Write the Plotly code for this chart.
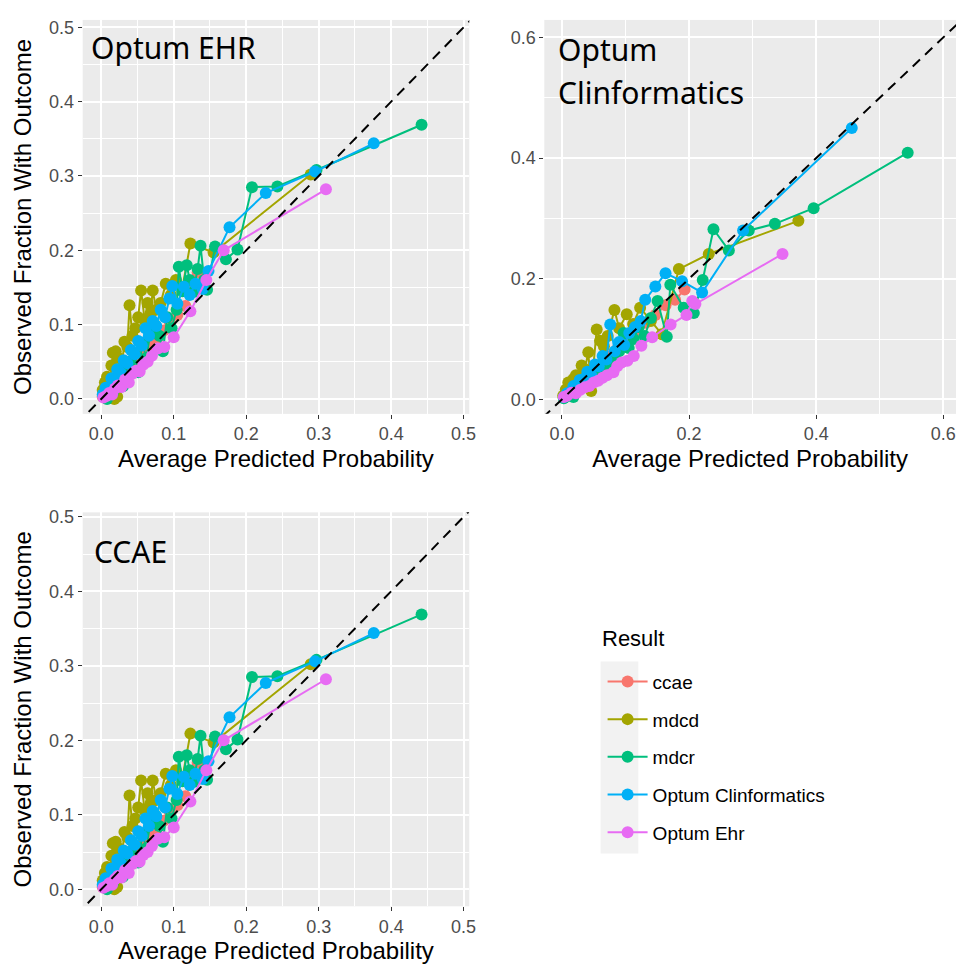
import plotly.graph_objects as go

# ---------------- data ----------------
series_names = ["ccae", "mdcd", "mdcr", "Optum Clinformatics", "Optum Ehr"]
series_colors = ["#F8766D", "#A3A500", "#00BF7D", "#00B0F6", "#E76BF3"]

# Panel "Optum EHR" (the "CCAE" panel shows the same curves)
ehr_ccae_x = [0.002, 0.006, 0.010, 0.015, 0.020, 0.025, 0.030, 0.036, 0.042, 0.048, 0.055, 0.062, 0.070, 0.078, 0.086, 0.095, 0.105, 0.116, 0.128, 0.133]
ehr_ccae_y = [0.003, 0.007, 0.012, 0.016, 0.020, 0.026, 0.032, 0.038, 0.044, 0.050, 0.058, 0.066, 0.075, 0.083, 0.092, 0.102, 0.113, 0.125, 0.150, 0.170]

ehr_mdcd_x = [0.002, 0.005, 0.008, 0.011, 0.014, 0.016, 0.018, 0.020, 0.022, 0.024, 0.028, 0.032, 0.036, 0.039, 0.043, 0.047, 0.051, 0.055, 0.060, 0.064, 0.068, 0.071, 0.076, 0.082, 0.089, 0.096, 0.103, 0.112, 0.123, 0.155, 0.289]
ehr_mdcd_y = [0.012, 0.022, 0.030, 0.010, 0.045, 0.062, 0.000, 0.064, 0.003, 0.055, 0.040, 0.077, 0.070, 0.126, 0.085, 0.095, 0.110, 0.146, 0.105, 0.129, 0.115, 0.146, 0.120, 0.129, 0.155, 0.140, 0.160, 0.150, 0.209, 0.197, 0.302]

ehr_mdcr_x = [0.003, 0.008, 0.012, 0.016, 0.020, 0.025, 0.030, 0.035, 0.040, 0.046, 0.051, 0.057, 0.062, 0.068, 0.074, 0.080, 0.085, 0.091, 0.097, 0.104, 0.107, 0.112, 0.118, 0.122, 0.127, 0.133, 0.137, 0.142, 0.146, 0.157, 0.172, 0.188, 0.208, 0.243, 0.297, 0.442]
ehr_mdcr_y = [0.004, 0.000, 0.012, 0.008, 0.022, 0.030, 0.017, 0.045, 0.050, 0.060, 0.036, 0.075, 0.055, 0.090, 0.100, 0.085, 0.064, 0.110, 0.095, 0.120, 0.178, 0.145, 0.180, 0.160, 0.144, 0.175, 0.206, 0.160, 0.147, 0.205, 0.188, 0.201, 0.285, 0.286, 0.308, 0.369]

ehr_clin_x = [0.002, 0.006, 0.010, 0.014, 0.018, 0.022, 0.027, 0.031, 0.036, 0.041, 0.046, 0.051, 0.056, 0.061, 0.066, 0.071, 0.076, 0.082, 0.088, 0.094, 0.098, 0.105, 0.114, 0.122, 0.130, 0.140, 0.148, 0.177, 0.227, 0.295, 0.376]
ehr_clin_y = [0.006, 0.015, 0.012, 0.028, 0.024, 0.040, 0.035, 0.052, 0.048, 0.066, 0.060, 0.078, 0.072, 0.095, 0.085, 0.105, 0.098, 0.120, 0.110, 0.135, 0.152, 0.128, 0.151, 0.140, 0.155, 0.148, 0.172, 0.231, 0.277, 0.306, 0.344]

ehr_ehr_x = [0.003, 0.007, 0.011, 0.015, 0.019, 0.023, 0.028, 0.033, 0.038, 0.043, 0.048, 0.053, 0.058, 0.064, 0.070, 0.078, 0.087, 0.100, 0.123, 0.145, 0.169, 0.310]
ehr_ehr_y = [0.002, 0.004, 0.008, 0.006, 0.014, 0.018, 0.016, 0.026, 0.022, 0.034, 0.038, 0.037, 0.046, 0.050, 0.058, 0.068, 0.070, 0.083, 0.118, 0.160, 0.200, 0.282]

# Panel "Optum Clinformatics"
clin_ccae_x = [0.003, 0.008, 0.014, 0.020, 0.027, 0.034, 0.042, 0.050, 0.058, 0.067, 0.076, 0.086, 0.096, 0.107, 0.119, 0.132, 0.147, 0.163, 0.178, 0.193]
clin_ccae_y = [0.003, 0.008, 0.013, 0.019, 0.026, 0.033, 0.040, 0.048, 0.056, 0.064, 0.072, 0.082, 0.092, 0.103, 0.113, 0.127, 0.140, 0.156, 0.165, 0.182]

clin_mdcd_x = [0.002, 0.006, 0.010, 0.014, 0.018, 0.022, 0.027, 0.031, 0.036, 0.0415, 0.046, 0.0547, 0.060, 0.066, 0.072, 0.0826, 0.090, 0.102, 0.112, 0.123, 0.140, 0.157, 0.184, 0.231, 0.372]
clin_mdcd_y = [0.006, 0.016, 0.028, 0.020, 0.034, 0.040, 0.030, 0.056, 0.050, 0.078, 0.014, 0.116, 0.097, 0.088, 0.105, 0.148, 0.118, 0.141, 0.125, 0.152, 0.130, 0.108, 0.216, 0.241, 0.296]

clin_mdcr_x = [0.003, 0.008, 0.013, 0.018, 0.024, 0.030, 0.036, 0.042, 0.048, 0.055, 0.062, 0.069, 0.076, 0.083, 0.090, 0.097, 0.105, 0.113, 0.121, 0.130, 0.140, 0.1505, 0.165, 0.1705, 0.1916, 0.2075, 0.2215, 0.2384, 0.2626, 0.294, 0.335, 0.396, 0.544]
clin_mdcr_y = [0.002, 0.006, 0.010, 0.004, 0.018, 0.022, 0.030, 0.026, 0.040, 0.044, 0.052, 0.060, 0.058, 0.072, 0.080, 0.110, 0.085, 0.100, 0.120, 0.105, 0.135, 0.163, 0.104, 0.190, 0.152, 0.143, 0.198, 0.282, 0.247, 0.280, 0.291, 0.317, 0.409]

clin_clin_x = [0.003, 0.008, 0.013, 0.018, 0.023, 0.028, 0.034, 0.040, 0.046, 0.052, 0.058, 0.064, 0.070, 0.076, 0.083, 0.090, 0.098, 0.106, 0.115, 0.124, 0.131, 0.147, 0.163, 0.189, 0.2205, 0.285, 0.456]
clin_clin_y = [0.004, 0.010, 0.012, 0.022, 0.020, 0.032, 0.034, 0.046, 0.040, 0.058, 0.055, 0.072, 0.066, 0.124, 0.080, 0.095, 0.090, 0.110, 0.120, 0.130, 0.165, 0.187, 0.209, 0.196, 0.177, 0.280, 0.450]

clin_ehr_x = [0.003, 0.008, 0.015, 0.022, 0.029, 0.036, 0.043, 0.050, 0.057, 0.064, 0.071, 0.081, 0.087, 0.094, 0.103, 0.113, 0.125, 0.142, 0.171, 0.196, 0.205, 0.210, 0.347]
clin_ehr_y = [0.004, 0.006, 0.011, 0.010, 0.016, 0.020, 0.022, 0.028, 0.031, 0.036, 0.040, 0.045, 0.055, 0.061, 0.064, 0.072, 0.089, 0.103, 0.124, 0.140, 0.163, 0.158, 0.241]

panel_titles = ["Optum EHR", "Optum", "Clinformatics", "CCAE"]
x_title = "Average Predicted Probability"
y_title = "Observed Fraction With Outcome"
legend_title = "Result"

ehr_sets = [(ehr_ccae_x, ehr_ccae_y), (ehr_mdcd_x, ehr_mdcd_y), (ehr_mdcr_x, ehr_mdcr_y),
            (ehr_clin_x, ehr_clin_y), (ehr_ehr_x, ehr_ehr_y)]
clin_sets = [(clin_ccae_x, clin_ccae_y), (clin_mdcd_x, clin_mdcd_y), (clin_mdcr_x, clin_mdcr_y),
             (clin_clin_x, clin_clin_y), (clin_ehr_x, clin_ehr_y)]
panel_sets = [ehr_sets, clin_sets, ehr_sets]

# ---------------- figure ----------------
W, H = 965, 967
fig = go.Figure()

axis_ids = [("x", "y"), ("x2", "y2"), ("x3", "y3")]
for p, sets in enumerate(panel_sets):
    xa, ya = axis_ids[p]
    for i, (xs, ys) in enumerate(sets):
        fig.add_trace(go.Scatter(
            x=xs, y=ys, mode="lines+markers", name=series_names[i],
            legendgroup=series_names[i], showlegend=(p == 0),
            line=dict(color=series_colors[i], width=2),
            marker=dict(color=series_colors[i], size=12),
            xaxis=xa, yaxis=ya, cliponaxis=True,
        ))
    # identity reference line (y = x)
    fig.add_trace(go.Scatter(
        x=[-1, 1], y=[-1, 1], mode="lines", showlegend=False, hoverinfo="skip",
        line=dict(color="black", width=2, dash="10px,7px"),
        xaxis=xa, yaxis=ya,
    ))

def px_x(a, b):
    return [a / W, b / W]

def px_y(top, bottom):
    return [1 - bottom / H, 1 - top / H]

FONT = "Liberation Sans, Arial, sans-serif"
tickfont = dict(family=FONT, size=18, color="#4D4D4D")
titlefont = dict(family=FONT, size=24, color="black")

def axis_common(dtick, minor_dtick):
    return dict(
        showgrid=True, gridcolor="white", gridwidth=2, zeroline=False,
        ticks="outside", ticklen=4, tickwidth=1, tickcolor="#333333",
        tickfont=tickfont, tickformat=".1f", dtick=dtick, tick0=0,
        minor=dict(dtick=minor_dtick, tick0=0, showgrid=True, gridcolor="white", gridwidth=1, ticks=""),
        showline=False, fixedrange=True,
    )

# panel geometry (pixels)
p1 = dict(x=(83.3, 472.7), y=(15, 411))
p2 = dict(x=(548.3, 963), y=(15, 411))
p3 = dict(x=(83.3, 472.7), y=(510, 906))

fig.update_layout(
    xaxis=dict(domain=px_x(*p1["x"]), anchor="y", range=[-0.0256, 0.5078],
               title=dict(text=x_title, font=titlefont, standoff=6), **axis_common(0.1, 0.05)),
    yaxis=dict(domain=px_y(*p1["y"]), anchor="x", range=[-0.0201, 0.5100],
               title=dict(text=y_title, font=titlefont, standoff=10), **axis_common(0.1, 0.05)),
    xaxis2=dict(domain=px_x(*p2["x"]), anchor="y2", range=[-0.0277, 0.620],
                title=dict(text=x_title, font=titlefont, standoff=6), **axis_common(0.2, 0.1)),
    yaxis2=dict(domain=px_y(*p2["y"]), anchor="x2", range=[-0.0240, 0.6290],
                **axis_common(0.2, 0.1)),
    xaxis3=dict(domain=px_x(*p3["x"]), anchor="y3", range=[-0.0256, 0.5078],
                title=dict(text=x_title, font=titlefont, standoff=6), **axis_common(0.1, 0.05)),
    yaxis3=dict(domain=px_y(*p3["y"]), anchor="x3", range=[-0.0228, 0.5060],
                title=dict(text=y_title, font=titlefont, standoff=10), **axis_common(0.1, 0.05)),
    plot_bgcolor="#EBEBEB", paper_bgcolor="white",
    width=W, height=H, margin=dict(l=0, r=0, t=0, b=0),
    showlegend=True,
    legend=dict(
        x=607 / W, y=1 - 661 / H, xanchor="left", yanchor="top",
        font=dict(family=FONT, size=19, color="black"),
        traceorder="grouped", tracegroupgap=10, bgcolor="rgba(0,0,0,0)",
        itemwidth=40,
    ),
)

# legend title
fig.add_annotation(text=legend_title, xref="paper", yref="paper", x=604 / W, y=1 - 637 / H,
                   xanchor="left", yanchor="middle", showarrow=False,
                   font=dict(family=FONT, size=22, color="black"))

# grey background behind legend keys
fig.add_shape(type="rect", xref="paper", yref="paper",
              x0=605 / W, x1=643 / W, y0=1 - 853 / H, y1=1 - 660 / H,
              fillcolor="#F2F2F2", line=dict(width=0), layer="below")

# panel labels (positions in pixels)
label_font = dict(family="Noto Sans, Open Sans, sans-serif", size=30, color="black")
labels = [(panel_titles[0], 90, 43), (panel_titles[1], 560, 45), (panel_titles[2], 560, 88), (panel_titles[3], 93, 549)]
for text, lx, ly in labels:
    fig.add_annotation(text=text, xref="paper", yref="paper", x=lx / W, y=1 - ly / H,
                       xanchor="left", yanchor="middle", showarrow=False, font=label_font, align="left")

fig.write_html("out.html", config={"displayModeBar": False},
               post_script="document.body.style.margin='0px';document.body.style.overflow='hidden';")
